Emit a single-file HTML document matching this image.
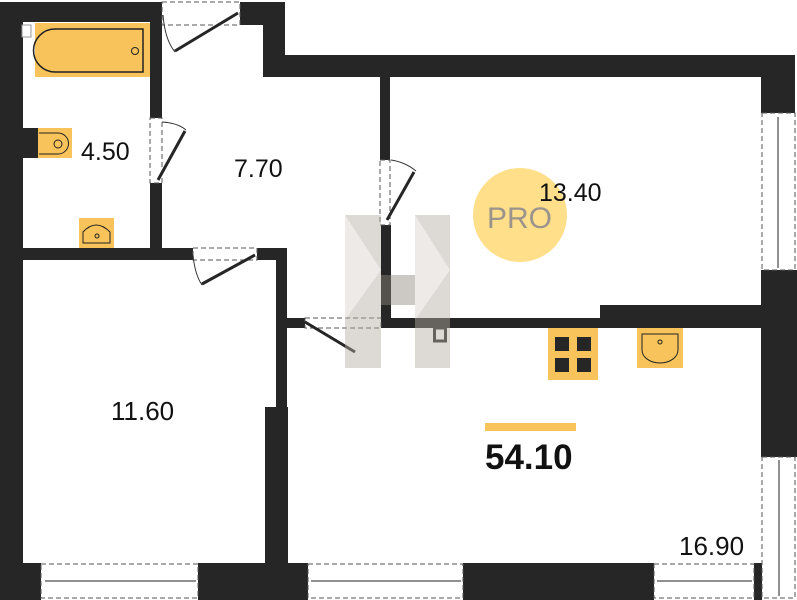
<!DOCTYPE html>
<html><head><style>
html,body{margin:0;padding:0;background:#fff;width:797px;height:600px;overflow:hidden}
svg{display:block}
text{font-family:"Liberation Sans",sans-serif;fill:#111}
</style></head><body>
<svg width="797" height="600" viewBox="0 0 797 600">
<g fill="#262626">
<rect x="0" y="2" width="23" height="598"/>
<rect x="0" y="2" width="162" height="20"/>
<rect x="240" y="2" width="45" height="23"/>
<rect x="263" y="2" width="22" height="75"/>
<rect x="263" y="55" width="532" height="22"/>
<rect x="761" y="55" width="34" height="58"/>
<rect x="761" y="270" width="36" height="187"/>
<rect x="150" y="22" width="12" height="96"/>
<rect x="150" y="183" width="12" height="77"/>
<rect x="0" y="248" width="193" height="12"/>
<rect x="257" y="248" width="28" height="12"/>
<rect x="276" y="248" width="11" height="160"/>
<rect x="265" y="407" width="23" height="160"/>
<rect x="380" y="77" width="10" height="83"/>
<rect x="381" y="225" width="10" height="103"/>
<rect x="287" y="318" width="18" height="10"/>
<rect x="381" y="318" width="381" height="10"/>
<rect x="600" y="305" width="162" height="23"/>
<rect x="0" y="563" width="41" height="37"/>
<rect x="198" y="563" width="110" height="37"/>
<rect x="463" y="563" width="191" height="37"/>
<rect x="754" y="563" width="8" height="37"/>
</g>
<rect x="434.5" y="328" width="11" height="13" fill="#fff" stroke="#262626" stroke-width="3"/>
<g stroke="#555" stroke-width="1" fill="none">
<rect x="41" y="564" width="157" height="34" stroke-dasharray="5,3"/>
<line x1="45" y1="581" x2="196" y2="581" stroke="#222"/>
<rect x="308" y="564" width="155" height="34" stroke-dasharray="5,3"/>
<line x1="311" y1="581" x2="461" y2="581" stroke="#222"/>
<rect x="654" y="564" width="100" height="34" stroke-dasharray="5,3"/>
<line x1="657" y1="581" x2="752" y2="581" stroke="#222"/>
<rect x="762" y="113" width="33" height="157" stroke-dasharray="5,3"/>
<line x1="778" y1="117" x2="778" y2="268" stroke="#222"/>
<rect x="762" y="457" width="33" height="141" stroke-dasharray="5,3"/>
<line x1="779" y1="460" x2="779" y2="596" stroke="#222"/>
<rect x="162" y="2" width="78" height="23" stroke-dasharray="5,3"/>
<rect x="150" y="118" width="12" height="65" stroke-dasharray="5,3"/>
<rect x="193" y="248" width="64" height="12" stroke-dasharray="5,3"/>
<rect x="380" y="160" width="10" height="65" stroke-dasharray="5,3"/>
<rect x="305" y="318" width="76" height="10" stroke-dasharray="5,3"/>
<path d="M163 15 Q165 40 175 52" stroke="#333"/>
<path d="M162 122 Q178 123 186 130" stroke="#333"/>
<path d="M193 255 Q195 275 202 285" stroke="#333"/>
<path d="M391 160 Q405 162 416 171" stroke="#333"/>
</g>
<g stroke="#262626" stroke-width="3">
<line x1="175" y1="51" x2="238" y2="13"/>
<line x1="158" y1="180" x2="185" y2="131"/>
<line x1="202" y1="284" x2="255" y2="255"/>
<line x1="387" y1="220" x2="414" y2="172"/>
<line x1="305" y1="322" x2="355" y2="352"/>
</g>
<rect x="22" y="25" width="9" height="12" fill="#fff" stroke="#999"/>
<rect x="35" y="23" width="115" height="54" fill="#F7C35A"/>
<path d="M55 29 H143 V72 H55 A21 21 0 0 1 55 29 Z" fill="none" stroke="#222" stroke-width="1.5"/>
<circle cx="135" cy="51" r="3.5" fill="none" stroke="#222"/>
<rect x="23" y="128" width="15" height="30" fill="#262626"/>
<rect x="38" y="128" width="34" height="30" fill="#F7C35A"/>
<path d="M39 133 H58 A10 10 0 0 1 58 154 H39" fill="none" stroke="#222"/>
<circle cx="58" cy="144" r="4" fill="none" stroke="#222"/>
<rect x="79" y="218" width="35" height="30" fill="#F7C35A"/>
<path d="M83 243 V232 Q96 218 110 232 V243 Z" fill="none" stroke="#222"/>
<circle cx="97" cy="236" r="2" fill="none" stroke="#222"/>
<rect x="548" y="328" width="50" height="52" fill="#F7C35A"/>
<g fill="#262626"><rect x="555" y="337" width="14" height="14"/><rect x="577" y="337" width="14" height="14"/><rect x="555" y="358" width="14" height="14"/><rect x="577" y="358" width="14" height="14"/></g>
<rect x="637" y="328" width="46" height="40" fill="#F7C35A"/>
<path d="M642 334 H678 V350 A18 13 0 0 1 642 350 Z" fill="none" stroke="#222"/>
<circle cx="660" cy="342" r="2" fill="none" stroke="#222"/>
<g opacity="0.45">
<rect x="345" y="215" width="36" height="153" fill="#b5aca2"/>
<rect x="415" y="215" width="35" height="153" fill="#b5aca2"/>
<rect x="381" y="275" width="34" height="30" fill="#8f877e"/>
<polygon points="345,215 381,270 345,320" fill="#d8d2cb"/>
<polygon points="415,215 450,270 415,320" fill="#d8d2cb"/>
</g>
<circle cx="520" cy="215" r="47" fill="#FFDF8A"/>
<text x="487" y="228" font-size="30" style="fill:#9a948c">PRO</text>
<text x="81" y="160" font-size="25">4.50</text>
<text x="234" y="177" font-size="25">7.70</text>
<text x="539" y="201" font-size="25">13.40</text>
<text x="111" y="420" font-size="26">11.60</text>
<text x="679" y="555" font-size="26">16.90</text>
<rect x="485" y="423" width="91" height="8" fill="#F7C35A"/>
<text x="485" y="469" font-size="35" font-weight="bold">54.10</text>
</svg>
</body></html>
